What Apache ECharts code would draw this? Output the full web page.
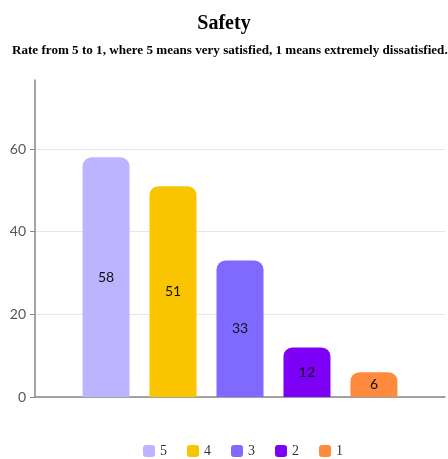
<!DOCTYPE html>
<html><head><meta charset="utf-8">
<script src="https://cdn.jsdelivr.net/npm/echarts@6/dist/echarts.min.js"></script>
<style>html,body{margin:0;padding:0;background:#fff}#c{width:448px;height:459px}</style>
</head><body><div id="c"></div>
<script>
const categories = ['Safety'];
const seriesNames = ['5', '4', '3', '2', '1'];
const seriesValues = [58, 51, 33, 12, 6];
const colors = ['#bcb4ff', '#f9c400', '#8069ff', '#7b00f5', '#ff8a3d'];
const yTicks = [0, 20, 40, 60];

const chart = echarts.init(document.getElementById('c'));
chart.setOption({
  animation: false,
  title: [
    {text: 'Safety', left: 'center', top: 9, textStyle: {fontFamily: 'Liberation Serif', fontWeight: 'bold', fontSize: 20, color: '#000'}},
    {text: 'Rate from 5 to 1, where 5 means very satisfied, 1 means extremely dissatisfied.', left: 7, top: 39, textStyle: {fontFamily: 'Liberation Serif', fontWeight: 'bold', fontSize: 13.1, color: '#000'}}
  ],
  legend: {
    top: 439, left: 138, itemWidth: 12, itemHeight: 12, itemGap: 20,
    icon: 'path://M3,0 H9 A3,3 0 0 1 12,3 V9 A3,3 0 0 1 9,12 H3 A3,3 0 0 1 0,9 V3 A3,3 0 0 1 3,0 Z',
    textStyle: {fontFamily: 'Liberation Serif', fontSize: 14, color: '#333'},
    data: seriesNames
  },
  grid: {left: 35, right: 3, top: 80, bottom: 62},
  xAxis: {
    type: 'category', data: categories,
    axisLine: {lineStyle: {color: '#888', width: 1.5}},
    axisTick: {alignWithLabel: true, length: 5, lineStyle: {color: '#888'}},
    axisLabel: {show: false}
  },
  yAxis: {
    type: 'value', min: 0, max: 76.7, interval: 20,
    axisLine: {show: true, lineStyle: {color: '#888', width: 1.5}},
    axisTick: {show: true, length: 5, lineStyle: {color: '#888'}, customValues: yTicks},
    axisLabel: {fontFamily: 'Lato', fontSize: 14, color: '#555', margin: 9, customValues: yTicks},
    splitLine: {lineStyle: {color: '#e6e6e6'}}
  },
  series: seriesNames.map((n, i) => ({
    name: n, type: 'bar', barWidth: 47, barGap: '42.5%',
    data: [seriesValues[i]],
    itemStyle: {color: colors[i], borderRadius: [9, 9, 0, 0]},
    label: {show: true, position: 'inside', color: '#111', fontFamily: 'Lato', fontSize: 14}
  }))
});
</script></body></html>
